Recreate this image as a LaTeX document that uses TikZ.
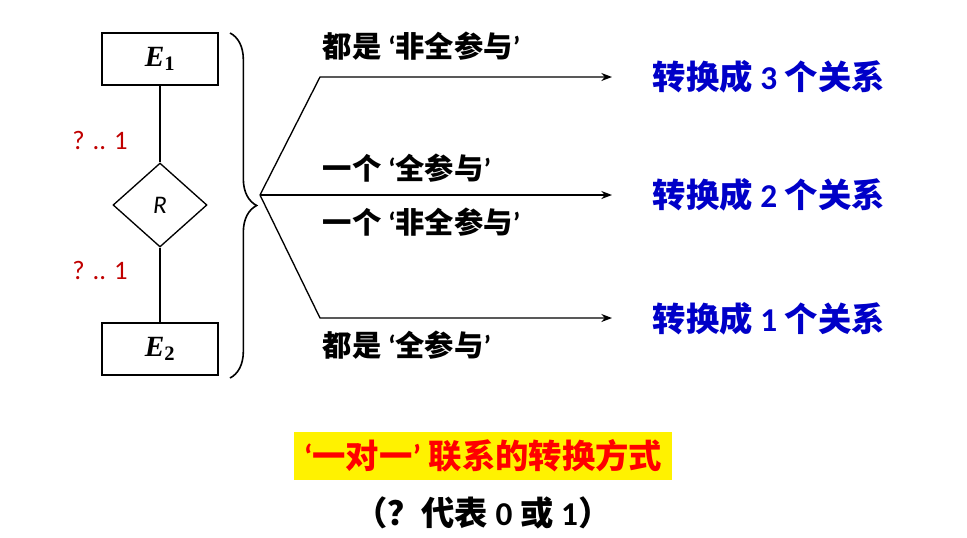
\documentclass[tikz,border=0pt]{standalone}
\usepackage{fontspec}
\setmainfont{Carlito}
\newfontfamily\cjk{Noto Sans CJK SC}
\newfontfamily\carl{Carlito}
\newfontfamily\ser{Liberation Serif}
\newcommand{\q}[1]{{\carl\bfseries #1}}
\usetikzlibrary{shapes.geometric,decorations.pathreplacing,arrows.meta}
\definecolor{tblue}{RGB}{0,0,200}
\definecolor{tred}{RGB}{192,0,0}
\begin{document}
\begin{tikzpicture}[x=0.75pt,y=-0.75pt,
  ent/.style={draw,line width=1pt,minimum width=87pt,minimum height=39pt,font=\fontsize{22}{22}\ser\bfseries\itshape},
  lab/.style={font=\fontsize{22}{24}\selectfont\cjk\bfseries,anchor=west},
  res/.style={font=\fontsize{25}{27}\selectfont\cjk\bfseries,text=tblue,anchor=west},
  card/.style={font=\fontsize{20}{22}\selectfont,text=tred},
  arr/.style={line width=1pt,-{Stealth[length=8pt,width=6pt]}}]
\useasboundingbox (0,0) rectangle (967,537);
\node[ent] (e1) at (160,59) {E\textsubscript{\upshape 1}};
\node[ent] (e2) at (160,349) {E\textsubscript{\upshape 2}};
\node[draw,line width=1pt,diamond,minimum width=70.5pt,minimum height=63pt,inner sep=0pt,font=\fontsize{19}{19}\selectfont\itshape] (r) at (160,205) {R};
\draw[line width=1pt] (e1) -- (r) (r) -- (e2);
\node[card] (c1) at (100,140) {? .. 1};
\node[card] (c2) at (100,270) {? .. 1};
\coordinate (bt) at (230,33);
\coordinate (bb) at (230,378);
\draw[line width=1.2pt,decorate,decoration={brace,amplitude=20pt}] (bt) -- (bb);
\coordinate (o) at (260,195);
\coordinate (k1) at (320,77);
\coordinate (k3) at (320,318);
\coordinate (t1) at (612,77);
\coordinate (t2) at (612,195);
\coordinate (t3) at (612,318);
\draw[arr] (o) -- (k1) -- (t1);
\draw[arr] (o) -- (t2);
\draw[arr] (o) -- (k3) -- (t3);
\node[lab] (l1) at (318,46) {都是 \q{‘}非全参与\q{’}};
\node[lab] (l2) at (318,168) {一个 \q{‘}全参与\q{’}};
\node[lab] (l3) at (318,222) {一个 \q{‘}非全参与\q{’}};
\node[lab] (l4) at (318,345) {都是 \q{‘}全参与\q{’}};
\node[res] (r1) at (648,77) {转换成 \q{3} 个关系};
\node[res] (r2) at (648,195) {转换成 \q{2} 个关系};
\node[res] (r3) at (648,319) {转换成 \q{1} 个关系};
\node[fill=yellow,minimum width=283.5pt,minimum height=36pt,text=red,font=\fontsize{25}{27}\selectfont\cjk\bfseries] (t) at (483,456) {\q{‘}一对一\q{’} 联系的转换方式};
\node[font=\fontsize{25}{27}\selectfont\cjk\bfseries] (n) at (483,513) {（？代表 \q{0} 或 \q{1}）};
\end{tikzpicture}
\end{document}
